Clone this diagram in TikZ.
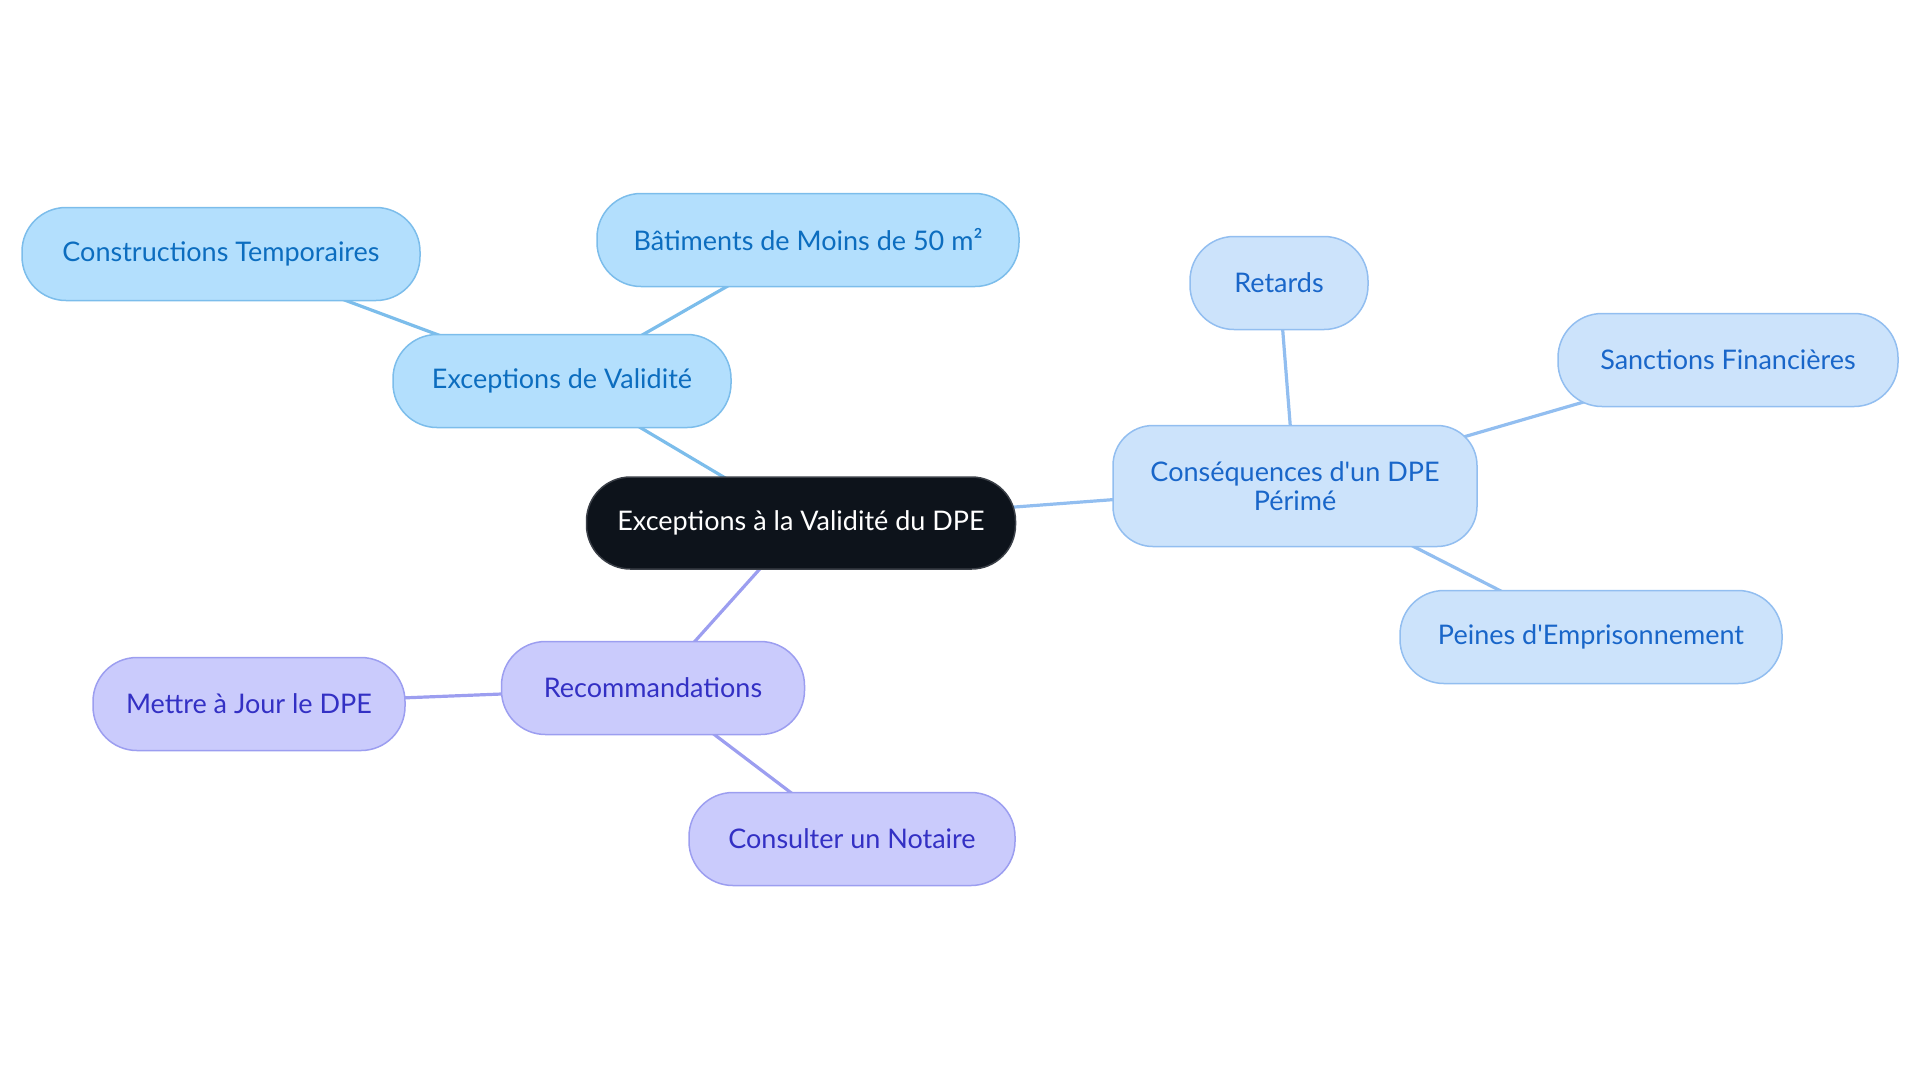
\documentclass[tikz,border=0pt]{standalone}
\usepackage{fontspec}
\setmainfont{Lato}
\usetikzlibrary{backgrounds}

\definecolor{Cink}{HTML}{0D131B}
\definecolor{Cinkline}{HTML}{3A3F47}
\definecolor{Cskyfill}{HTML}{B3DFFD}
\definecolor{Cskyline}{HTML}{7CBDEB}
\definecolor{Cskytext}{HTML}{0C6DBF}
\definecolor{Cpalefill}{HTML}{CCE3FB}
\definecolor{Cpaleline}{HTML}{92BEF0}
\definecolor{Cpaletext}{HTML}{1966C9}
\definecolor{Clilacfill}{HTML}{CACBFC}
\definecolor{Clilacline}{HTML}{9C9EF0}
\definecolor{Clilactext}{HTML}{3330C4}

\tikzset{
  bubble/.style={draw, line width=0.75pt, rounded corners=22pt, minimum height=46.5pt,
    inner xsep=8pt, font=\fontsize{13.5}{14.5}\selectfont, align=center},
  rootbubble/.style={bubble, fill=Cink, draw=Cinkline, text=white},
  skybubble/.style={bubble, fill=Cskyfill, draw=Cskyline, text=Cskytext},
  palebubble/.style={bubble, fill=Cpalefill, draw=Cpaleline, text=Cpaletext},
  lilacbubble/.style={bubble, fill=Clilacfill, draw=Clilacline, text=Clilactext},
  link/.style={line width=1.6pt}
}

\begin{document}
\begin{tikzpicture}[x=0.5pt,y=-0.5pt]
\useasboundingbox (0,0) rectangle (1920,1083);

% centre
\node[rootbubble, minimum width=214.5pt, minimum height=46pt] (root) at (801,523) {Exceptions à la Validité du DPE};

% exceptions
\node[skybubble, minimum width=169pt] (valid) at (562,381) {Exceptions de Validité};
\node[skybubble, minimum width=199pt] (constr) at (221,254) {Constructions Temporaires};
\node[skybubble, minimum width=211pt] (batim) at (808,240) {Bâtiments de Moins de 50 m²};

% consequences
\node[palebubble, minimum width=182pt, minimum height=60.5pt, rounded corners=20pt] (conseq) at (1295,486) {Conséquences d\textquotesingle un DPE\\Périmé};
\node[palebubble, minimum width=89pt] (retards) at (1279,283) {Retards};
\node[palebubble, minimum width=170pt] (sanct) at (1728,360) {Sanctions Financières};
\node[palebubble, minimum width=191pt] (peines) at (1591,637) {Peines d\textquotesingle Emprisonnement};

% recommandations
\node[lilacbubble, minimum width=151.5pt] (recomm) at (653,688) {Recommandations};
\node[lilacbubble, minimum width=156pt] (mettre) at (249,704) {Mettre à Jour le DPE};
\node[lilacbubble, minimum width=163pt] (notaire) at (852,839) {Consulter un Notaire};

\begin{pgfonlayer}{background}
\draw[link, Cskyline] (root.center) -- (valid.center);
\draw[link, Cskyline] (valid.center) -- (constr.center);
\draw[link, Cskyline] (valid.center) -- (batim.center);
\draw[link, Cpaleline] (root.center) -- (conseq.center);
\draw[link, Cpaleline] (conseq.center) -- (retards.center);
\draw[link, Cpaleline] (conseq.center) -- (sanct.center);
\draw[link, Cpaleline] (conseq.center) -- (peines.center);
\draw[link, Clilacline] (root.center) -- (recomm.center);
\draw[link, Clilacline] (recomm.center) -- (mettre.center);
\draw[link, Clilacline] (recomm.center) -- (notaire.center);
\end{pgfonlayer}
\end{tikzpicture}
\end{document}
